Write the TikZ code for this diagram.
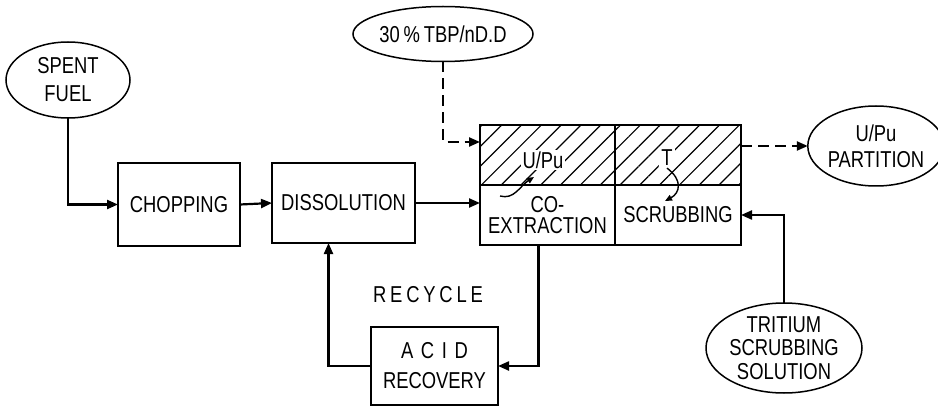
\documentclass[tikz,border=0pt]{standalone}
\usepackage{fontspec}
\setmainfont{Liberation Sans}[FakeStretch=0.8]
\usetikzlibrary{shapes.geometric,arrows.meta,patterns.meta}
\begin{document}
\begin{tikzpicture}[x=1pt,y=-1pt,
  font=\fontsize{23}{27}\selectfont,
  boxnode/.style={draw,line width=1.5pt,rectangle,inner sep=0pt,outer sep=0pt,align=center},
  ellnode/.style={draw,line width=1.5pt,ellipse,inner sep=0pt,outer sep=0pt,align=center},
  hatched/.style={pattern={Lines[angle=45,distance=14pt,line width=1.2pt]}},
  flow/.style={line width=2.2pt,-{Triangle[length=11pt,width=9pt]}},
  dflow/.style={flow,dash pattern=on 11pt off 6pt},
  curl/.style={line width=1.4pt,-{Triangle[length=7pt,width=6pt]}}
]
\useasboundingbox (0,0) rectangle (938,409);

\node[ellnode,minimum width=124pt,minimum height=76pt,font=\fontsize{23}{28}\selectfont] (spent) at (68,80) {SPENT\\FUEL};
\node[boxnode,minimum width=122pt,minimum height=83pt] (chop) at (179,204.5) {CHOPPING};
\node[boxnode,minimum width=143pt,minimum height=80pt] (diss) at (343.5,203) {DISSOLUTION};
\node[boxnode,hatched,minimum width=135pt,minimum height=60pt] (coup) at (547.5,155) {};
\node[boxnode,minimum width=135pt,minimum height=60pt,font=\fontsize{23}{21}\selectfont] (colow) at (547.5,215) {CO-\\EXTRACTION};
\node[boxnode,hatched,minimum width=126pt,minimum height=60pt] (scup) at (678,155) {};
\node[boxnode,minimum width=126pt,minimum height=60pt] (sclow) at (678,215) {SCRUBBING};
\node[boxnode,minimum width=127pt,minimum height=78pt,font=\fontsize{23}{30}\selectfont] (acid) at (434.5,366) {A\,\,C\,\,I\,\,D\\RECOVERY};
\node[ellnode,minimum width=170pt,minimum height=55pt] (tbp) at (443,34) {30\,\%\,TBP/nD.D};
\node[ellnode,minimum width=122pt,minimum height=80pt,font=\fontsize{23}{26}\selectfont] (part) at (876,146) {U/Pu\\PARTITION};
\node[ellnode,minimum width=156pt,minimum height=90pt,font=\fontsize{23}{23.5}\selectfont] (trit) at (784,348) {TRITIUM\\SCRUBBING\\SOLUTION};
\node (recycle) at (428,295) {R\,E\,C\,Y\,C\,L\,E};

\node[fill=white,inner sep=2pt] (upu) at (543,160) {U/Pu};
\node[fill=white,inner sep=2pt] (tlab) at (667,158) {T};

\draw[flow] (spent.south) |- (chop.west);
\draw[flow] (chop.east) -- (diss.west);
\draw[flow] (diss.east) -- (diss.east -| colow.west);
\draw[dflow] (tbp.south) |- ([yshift=13pt]coup.west);
\draw[dflow] (scup.east |- part.west) -- (part.west);
\draw[flow] (trit.north) |- (sclow.east);
\draw[flow] ([xshift=-9pt]colow.south) |- (acid.east);
\draw[flow] (acid.west) -| ([xshift=-15pt]diss.south);

\draw[curl] (500,196) .. controls (514,200) and (520,186) .. (534,177);
\draw[curl] (tlab.south) .. controls (683,180) and (680,193) .. (665,201);
\end{tikzpicture}
\end{document}
